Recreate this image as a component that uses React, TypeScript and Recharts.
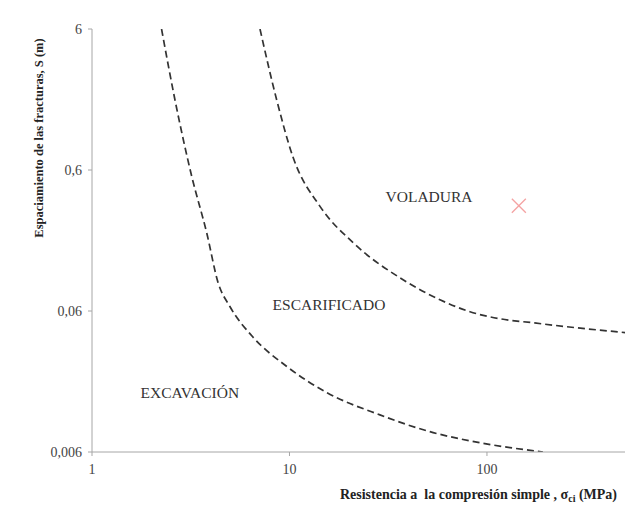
import {
  ComposedChart,
  Line,
  Scatter,
  XAxis,
  YAxis,
  ReferenceDot,
} from "recharts";

// separation curves (σci in MPa, spacing S in m)
const curveExcavX = [2.25, 2.63, 3.2, 3.81, 4.35, 5.0, 6.51, 9.71, 15.5, 28.7, 51.4, 92.2, 192];
const curveExcavY = [6, 1.89, 0.54, 0.215, 0.0953, 0.0643, 0.0394, 0.0242, 0.0158, 0.011, 0.00836, 0.00698, 0.006];

const curveBlastX = [7.09, 8.61, 10.4, 14.3, 21.0, 37.6, 57.8, 82.0, 116, 171, 254, 500];
const curveBlastY = [6, 1.89, 0.746, 0.33, 0.183, 0.1, 0.0721, 0.0593, 0.0529, 0.0495, 0.0464, 0.0422];

const sampleX = [145];
const sampleY = [0.335];

const zoneNames = ["VOLADURA", "ESCARIFICADO", "EXCAVACIÓN"];
const zoneX = [50.9, 15.85, 3.13];
const zoneY = [0.388, 0.0665, 0.0158];

const xTicks = [1, 10, 100];
const yTicks = [0.006, 0.06, 0.6, 6];

const excavData = curveExcavX.map((x, i) => ({ x, y: curveExcavY[i] }));
const blastData = curveBlastX.map((x, i) => ({ x, y: curveBlastY[i] }));
const sampleData = sampleX.map((x, i) => ({ x, y: sampleY[i] }));

const serif = "Liberation Serif, DejaVu Serif, serif";

function formatComma(v: number): string {
  return String(v).replace(".", ",");
}

function CrossMark(props: any) {
  const { cx, cy } = props;
  const s = 7;
  return (
    <g stroke="#f4a3a3" strokeWidth={1.3}>
      <line x1={cx - s} y1={cy - s} x2={cx + s} y2={cy + s} />
      <line x1={cx - s} y1={cy + s} x2={cx + s} y2={cy - s} />
    </g>
  );
}

function ZoneLabel(name: string) {
  return (props: any) => {
    const { cx, cy } = props;
    return (
      <text
        x={cx}
        y={cy}
        textAnchor="middle"
        dominantBaseline="central"
        style={{ fontFamily: serif }}
        fontSize={15.5}
        fill="#333"
      >
        {name}
      </text>
    );
  };
}

export default function App() {
  return (
    <div style={{ width: 630, height: 502, position: "relative", fontFamily: serif }}>
      <ComposedChart
        width={630}
        height={502}
        margin={{ top: 21, right: 13, bottom: 20, left: 0 }}
        style={{ fontFamily: serif }}
      >
        <XAxis
          dataKey="x"
          type="number"
          scale="log"
          domain={[1, 500]}
          ticks={xTicks}
          allowDataOverflow
          height={38}
          stroke="#a6a6a6"
          tickSize={4}
          tickMargin={8}
          tick={{ fill: "#444", fontSize: 14, fontFamily: serif }}
          label={{
            content: () => (
              <text
                x={609}
                y={491}
                textAnchor="end"
                style={{ fontFamily: serif, whiteSpace: "pre" }}
                fontWeight="bold"
                fontSize={14}
                fill="#222"
              >
                Resistencia a  la compresión simple , σ
                <tspan fontSize={10} dy={3}>ci</tspan>
                <tspan dy={-3}> (MPa)</tspan>
              </text>
            ),
          }}
        />
        <YAxis
          dataKey="y"
          type="number"
          scale="log"
          domain={[0.006, 6]}
          ticks={yTicks}
          allowDataOverflow
          width={84}
          stroke="#a6a6a6"
          tickSize={4}
          tickMargin={6}
          tickFormatter={formatComma}
          tick={{ fill: "#444", fontSize: 14, fontFamily: serif }}
          label={{
            content: () => (
              <text
                x={35}
                y={130}
                textAnchor="middle"
                transform="rotate(-90 35 130)"
                style={{ fontFamily: serif }}
                fontWeight="bold"
                fontSize={12.5}
                fill="#222"
              >
                Espaciamiento de las fracturas, S (m)
              </text>
            ),
          }}
        />
        <Line
          data={excavData}
          dataKey="y"
          type="monotone"
          stroke="#333"
          strokeWidth={1.7}
          strokeDasharray="7 4"
          dot={false}
          activeDot={false}
          isAnimationActive={false}
        />
        <Line
          data={blastData}
          dataKey="y"
          type="monotone"
          stroke="#333"
          strokeWidth={1.7}
          strokeDasharray="7 4"
          dot={false}
          activeDot={false}
          isAnimationActive={false}
        />
        <Scatter
          data={sampleData}
          dataKey="y"
          shape={<CrossMark />}
          isAnimationActive={false}
        />
        {zoneNames.map((name, i) => (
          <ReferenceDot
            key={name}
            x={zoneX[i]}
            y={zoneY[i]}
            r={0}
            shape={ZoneLabel(name)}
          />
        ))}
      </ComposedChart>
    </div>
  );
}
